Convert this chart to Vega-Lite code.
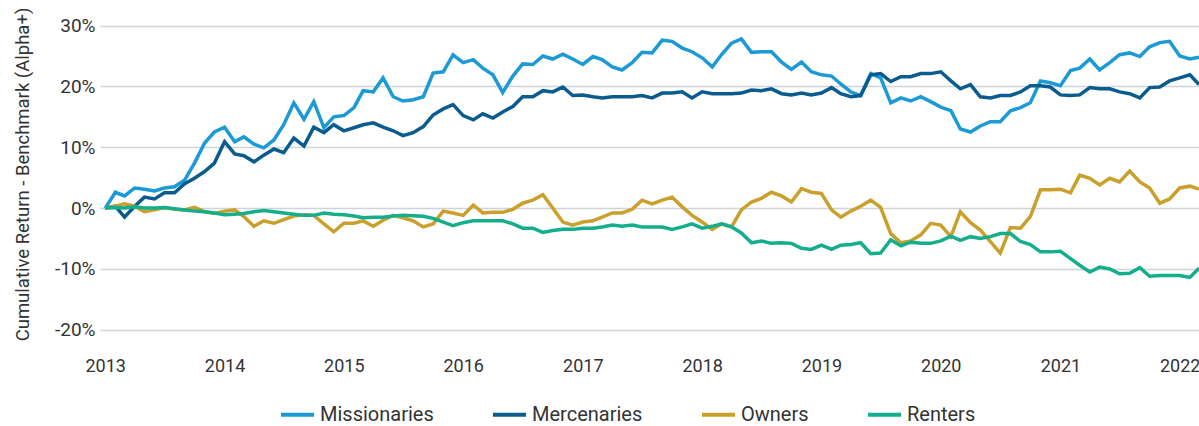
{
  "$schema": "https://vega.github.io/schema/vega-lite/v6.json",
  "width": 1099,
  "height": 348,
  "autosize": {"type": "none"},
  "padding": {"left": 100, "top": 0, "right": 0, "bottom": 78},
  "background": "white",
  "config": {
    "view": {"stroke": null},
    "font": "Roboto"
  },
  "data": {"values": [
    {"d":"2013-01-01","Missionaries":0,"Mercenaries":0,"Owners":0,"Renters":0},
    {"d":"2013-02-01","Missionaries":2.6,"Mercenaries":0.3,"Owners":0.3,"Renters":0.1},
    {"d":"2013-03-01","Missionaries":2.0,"Mercenaries":-1.5,"Owners":0.7,"Renters":0},
    {"d":"2013-04-01","Missionaries":3.3,"Mercenaries":0.3,"Owners":0.3,"Renters":0.2},
    {"d":"2013-05-01","Missionaries":3.1,"Mercenaries":1.8,"Owners":-0.6,"Renters":0},
    {"d":"2013-06-01","Missionaries":2.8,"Mercenaries":1.5,"Owners":-0.3,"Renters":0},
    {"d":"2013-07-01","Missionaries":3.3,"Mercenaries":2.5,"Owners":0.1,"Renters":0.1},
    {"d":"2013-08-01","Missionaries":3.5,"Mercenaries":2.5,"Owners":-0.2,"Renters":-0.1},
    {"d":"2013-09-01","Missionaries":4.6,"Mercenaries":4.0,"Owners":-0.3,"Renters":-0.3},
    {"d":"2013-10-01","Missionaries":7.4,"Mercenaries":4.9,"Owners":0.1,"Renters":-0.5},
    {"d":"2013-11-01","Missionaries":10.7,"Mercenaries":6.0,"Owners":-0.6,"Renters":-0.6},
    {"d":"2013-12-01","Missionaries":12.5,"Mercenaries":7.4,"Owners":-0.9,"Renters":-0.8},
    {"d":"2014-01-01","Missionaries":13.3,"Mercenaries":10.9,"Owners":-0.5,"Renters":-1.1},
    {"d":"2014-02-01","Missionaries":10.9,"Mercenaries":8.9,"Owners":-0.3,"Renters":-1.0},
    {"d":"2014-03-01","Missionaries":11.7,"Mercenaries":8.6,"Owners":-1.4,"Renters":-0.9},
    {"d":"2014-04-01","Missionaries":10.5,"Mercenaries":7.6,"Owners":-3.0,"Renters":-0.6},
    {"d":"2014-05-01","Missionaries":9.9,"Mercenaries":8.7,"Owners":-2.1,"Renters":-0.4},
    {"d":"2014-06-01","Missionaries":11.2,"Mercenaries":9.7,"Owners":-2.5,"Renters":-0.6},
    {"d":"2014-07-01","Missionaries":13.7,"Mercenaries":9.1,"Owners":-1.9,"Renters":-0.8},
    {"d":"2014-08-01","Missionaries":17.3,"Mercenaries":11.5,"Owners":-1.3,"Renters":-1.0},
    {"d":"2014-09-01","Missionaries":14.6,"Mercenaries":10.2,"Owners":-1.1,"Renters":-1.2},
    {"d":"2014-10-01","Missionaries":17.5,"Mercenaries":13.3,"Owners":-1.2,"Renters":-1.2},
    {"d":"2014-11-01","Missionaries":13.2,"Mercenaries":12.4,"Owners":-2.6,"Renters":-0.8},
    {"d":"2014-12-01","Missionaries":15.0,"Mercenaries":13.7,"Owners":-3.9,"Renters":-1.0},
    {"d":"2015-01-01","Missionaries":15.2,"Mercenaries":12.7,"Owners":-2.5,"Renters":-1.1},
    {"d":"2015-02-01","Missionaries":16.5,"Mercenaries":13.2,"Owners":-2.5,"Renters":-1.3},
    {"d":"2015-03-01","Missionaries":19.3,"Mercenaries":13.7,"Owners":-2.1,"Renters":-1.6},
    {"d":"2015-04-01","Missionaries":19.1,"Mercenaries":14.0,"Owners":-3.0,"Renters":-1.5},
    {"d":"2015-05-01","Missionaries":21.4,"Mercenaries":13.3,"Owners":-2.0,"Renters":-1.5},
    {"d":"2015-06-01","Missionaries":18.3,"Mercenaries":12.7,"Owners":-1.2,"Renters":-1.3},
    {"d":"2015-07-01","Missionaries":17.6,"Mercenaries":11.9,"Owners":-1.6,"Renters":-1.2},
    {"d":"2015-08-01","Missionaries":17.8,"Mercenaries":12.4,"Owners":-2.1,"Renters":-1.25},
    {"d":"2015-09-01","Missionaries":18.3,"Mercenaries":13.4,"Owners":-3.1,"Renters":-1.35},
    {"d":"2015-10-01","Missionaries":22.2,"Mercenaries":15.3,"Owners":-2.6,"Renters":-1.7},
    {"d":"2015-11-01","Missionaries":22.4,"Mercenaries":16.3,"Owners":-0.5,"Renters":-2.3},
    {"d":"2015-12-01","Missionaries":25.2,"Mercenaries":17.0,"Owners":-0.8,"Renters":-2.9},
    {"d":"2016-01-01","Missionaries":23.9,"Mercenaries":15.2,"Owners":-1.2,"Renters":-2.4},
    {"d":"2016-02-01","Missionaries":24.4,"Mercenaries":14.5,"Owners":0.5,"Renters":-2.1},
    {"d":"2016-03-01","Missionaries":23.0,"Mercenaries":15.5,"Owners":-0.8,"Renters":-2.1},
    {"d":"2016-04-01","Missionaries":21.9,"Mercenaries":14.8,"Owners":-0.7,"Renters":-2.1},
    {"d":"2016-05-01","Missionaries":19.0,"Mercenaries":15.8,"Owners":-0.7,"Renters":-2.1},
    {"d":"2016-06-01","Missionaries":21.7,"Mercenaries":16.7,"Owners":-0.2,"Renters":-2.6},
    {"d":"2016-07-01","Missionaries":23.7,"Mercenaries":18.3,"Owners":0.8,"Renters":-3.3},
    {"d":"2016-08-01","Missionaries":23.6,"Mercenaries":18.3,"Owners":1.3,"Renters":-3.3},
    {"d":"2016-09-01","Missionaries":25.0,"Mercenaries":19.3,"Owners":2.2,"Renters":-4.0},
    {"d":"2016-10-01","Missionaries":24.5,"Mercenaries":19.1,"Owners":0.0,"Renters":-3.7},
    {"d":"2016-11-01","Missionaries":25.3,"Mercenaries":19.9,"Owners":-2.3,"Renters":-3.5},
    {"d":"2016-12-01","Missionaries":24.5,"Mercenaries":18.5,"Owners":-2.8,"Renters":-3.5},
    {"d":"2017-01-01","Missionaries":23.6,"Mercenaries":18.6,"Owners":-2.3,"Renters":-3.3},
    {"d":"2017-02-01","Missionaries":24.9,"Mercenaries":18.3,"Owners":-2.1,"Renters":-3.3},
    {"d":"2017-03-01","Missionaries":24.4,"Mercenaries":18.1,"Owners":-1.5,"Renters":-3.1},
    {"d":"2017-04-01","Missionaries":23.2,"Mercenaries":18.3,"Owners":-0.8,"Renters":-2.8},
    {"d":"2017-05-01","Missionaries":22.7,"Mercenaries":18.3,"Owners":-0.8,"Renters":-3.0},
    {"d":"2017-06-01","Missionaries":23.9,"Mercenaries":18.3,"Owners":-0.2,"Renters":-2.8},
    {"d":"2017-07-01","Missionaries":25.6,"Mercenaries":18.5,"Owners":1.3,"Renters":-3.1},
    {"d":"2017-08-01","Missionaries":25.5,"Mercenaries":18.1,"Owners":0.7,"Renters":-3.1},
    {"d":"2017-09-01","Missionaries":27.6,"Mercenaries":18.9,"Owners":1.3,"Renters":-3.1},
    {"d":"2017-10-01","Missionaries":27.4,"Mercenaries":18.9,"Owners":1.8,"Renters":-3.5},
    {"d":"2017-11-01","Missionaries":26.3,"Mercenaries":19.1,"Owners":0.2,"Renters":-3.1},
    {"d":"2017-12-01","Missionaries":25.7,"Mercenaries":18.1,"Owners":-1.2,"Renters":-2.6},
    {"d":"2018-01-01","Missionaries":24.7,"Mercenaries":19.1,"Owners":-2.3,"Renters":-3.3},
    {"d":"2018-02-01","Missionaries":23.2,"Mercenaries":18.8,"Owners":-3.5,"Renters":-3.0},
    {"d":"2018-03-01","Missionaries":25.2,"Mercenaries":18.8,"Owners":-2.6,"Renters":-2.6},
    {"d":"2018-04-01","Missionaries":27.1,"Mercenaries":18.8,"Owners":-3.1,"Renters":-3.1},
    {"d":"2018-05-01","Missionaries":27.8,"Mercenaries":18.9,"Owners":-0.3,"Renters":-4.1},
    {"d":"2018-06-01","Missionaries":25.6,"Mercenaries":19.4,"Owners":1.0,"Renters":-5.7},
    {"d":"2018-07-01","Missionaries":25.7,"Mercenaries":19.3,"Owners":1.6,"Renters":-5.4},
    {"d":"2018-08-01","Missionaries":25.7,"Mercenaries":19.6,"Owners":2.6,"Renters":-5.8},
    {"d":"2018-09-01","Missionaries":24.0,"Mercenaries":18.8,"Owners":2.0,"Renters":-5.7},
    {"d":"2018-10-01","Missionaries":22.8,"Mercenaries":18.6,"Owners":1.0,"Renters":-5.8},
    {"d":"2018-11-01","Missionaries":24.0,"Mercenaries":18.9,"Owners":3.2,"Renters":-6.6},
    {"d":"2018-12-01","Missionaries":22.4,"Mercenaries":18.6,"Owners":2.6,"Renters":-6.8},
    {"d":"2019-01-01","Missionaries":21.9,"Mercenaries":18.9,"Owners":2.4,"Renters":-6.1},
    {"d":"2019-02-01","Missionaries":21.7,"Mercenaries":19.8,"Owners":-0.3,"Renters":-6.8},
    {"d":"2019-03-01","Missionaries":20.4,"Mercenaries":18.8,"Owners":-1.5,"Renters":-6.1},
    {"d":"2019-04-01","Missionaries":19.1,"Mercenaries":18.3,"Owners":-0.5,"Renters":-6.0},
    {"d":"2019-05-01","Missionaries":18.5,"Mercenaries":18.5,"Owners":0.3,"Renters":-5.7},
    {"d":"2019-06-01","Missionaries":22.1,"Mercenaries":21.9,"Owners":1.3,"Renters":-7.5},
    {"d":"2019-07-01","Missionaries":21.4,"Mercenaries":22.1,"Owners":0.1,"Renters":-7.4},
    {"d":"2019-08-01","Missionaries":17.3,"Mercenaries":20.8,"Owners":-4.2,"Renters":-5.2},
    {"d":"2019-09-01","Missionaries":18.1,"Mercenaries":21.6,"Owners":-5.7,"Renters":-6.2},
    {"d":"2019-10-01","Missionaries":17.6,"Mercenaries":21.6,"Owners":-5.4,"Renters":-5.6},
    {"d":"2019-11-01","Missionaries":18.3,"Mercenaries":22.1,"Owners":-4.4,"Renters":-5.8},
    {"d":"2019-12-01","Missionaries":17.5,"Mercenaries":22.1,"Owners":-2.5,"Renters":-5.8},
    {"d":"2020-01-01","Missionaries":16.6,"Mercenaries":22.4,"Owners":-2.8,"Renters":-5.4},
    {"d":"2020-02-01","Missionaries":16.0,"Mercenaries":20.9,"Owners":-4.7,"Renters":-4.6},
    {"d":"2020-03-01","Missionaries":13.0,"Mercenaries":19.6,"Owners":-0.6,"Renters":-5.3},
    {"d":"2020-04-01","Missionaries":12.5,"Mercenaries":20.3,"Owners":-2.4,"Renters":-4.7},
    {"d":"2020-05-01","Missionaries":13.5,"Mercenaries":18.3,"Owners":-3.6,"Renters":-5.0},
    {"d":"2020-06-01","Missionaries":14.2,"Mercenaries":18.1,"Owners":-5.5,"Renters":-4.7},
    {"d":"2020-07-01","Missionaries":14.2,"Mercenaries":18.5,"Owners":-7.4,"Renters":-4.2},
    {"d":"2020-08-01","Missionaries":16.0,"Mercenaries":18.5,"Owners":-3.2,"Renters":-4.2},
    {"d":"2020-09-01","Missionaries":16.5,"Mercenaries":19.1,"Owners":-3.3,"Renters":-5.5},
    {"d":"2020-10-01","Missionaries":17.3,"Mercenaries":20.1,"Owners":-1.4,"Renters":-6.0},
    {"d":"2020-11-01","Missionaries":20.9,"Mercenaries":20.1,"Owners":3.0,"Renters":-7.2},
    {"d":"2020-12-01","Missionaries":20.6,"Mercenaries":19.9,"Owners":3.0,"Renters":-7.2},
    {"d":"2021-01-01","Missionaries":20.1,"Mercenaries":18.6,"Owners":3.1,"Renters":-7.1},
    {"d":"2021-02-01","Missionaries":22.6,"Mercenaries":18.5,"Owners":2.5,"Renters":-8.3},
    {"d":"2021-03-01","Missionaries":23.0,"Mercenaries":18.6,"Owners":5.4,"Renters":-9.4},
    {"d":"2021-04-01","Missionaries":24.5,"Mercenaries":19.8,"Owners":4.9,"Renters":-10.5},
    {"d":"2021-05-01","Missionaries":22.7,"Mercenaries":19.6,"Owners":3.8,"Renters":-9.7},
    {"d":"2021-06-01","Missionaries":23.9,"Mercenaries":19.6,"Owners":4.9,"Renters":-10.0},
    {"d":"2021-07-01","Missionaries":25.2,"Mercenaries":19.1,"Owners":4.3,"Renters":-10.8},
    {"d":"2021-08-01","Missionaries":25.5,"Mercenaries":18.8,"Owners":6.1,"Renters":-10.7},
    {"d":"2021-09-01","Missionaries":24.9,"Mercenaries":18.1,"Owners":4.3,"Renters":-9.8},
    {"d":"2021-10-01","Missionaries":26.5,"Mercenaries":19.8,"Owners":3.3,"Renters":-11.2},
    {"d":"2021-11-01","Missionaries":27.2,"Mercenaries":19.9,"Owners":0.8,"Renters":-11.1},
    {"d":"2021-12-01","Missionaries":27.4,"Mercenaries":20.9,"Owners":1.5,"Renters":-11.1},
    {"d":"2022-01-01","Missionaries":25.0,"Mercenaries":21.4,"Owners":3.3,"Renters":-11.1},
    {"d":"2022-02-01","Missionaries":24.5,"Mercenaries":21.9,"Owners":3.6,"Renters":-11.4},
    {"d":"2022-03-01","Missionaries":24.8,"Mercenaries":20.3,"Owners":3.1,"Renters":-9.9}
  ]},
  "transform": [
    {"fold": ["Missionaries", "Mercenaries", "Owners", "Renters"], "as": ["series", "value"]}
  ],
  "mark": {"type": "line", "strokeWidth": 3.5, "clip": true},
  "encoding": {
    "x": {
      "field": "d",
      "type": "temporal",
      "scale": {
        "type": "utc",
        "domain": [
          {"year": 2012, "month": 12, "date": 16, "utc": true},
          {"year": 2022, "month": 3, "date": 1, "utc": true}
        ]
      },
      "axis": {
        "title": null,
        "domain": false,
        "ticks": false,
        "grid": false,
        "format": "%Y",
        "tickCount": {"interval": "year", "step": 1},
        "labelFontSize": 18,
        "labelColor": "#333333",
        "labelPadding": 9,
        "labelFlush": false,
        "labelOverlap": false,
        "labelBound": false
      }
    },
    "y": {
      "field": "value",
      "type": "quantitative",
      "scale": {"domain": [-23, 34.2], "nice": false, "zero": false},
      "axis": {
        "title": "Cumulative Return - Benchmark (Alpha+)",
        "titleFont": "Roboto",
        "titleFontSize": 18.5,
        "titleFontWeight": "normal",
        "titleColor": "#333333",
        "titlePadding": 22,
        "values": [-20, -10, 0, 10, 20, 30],
        "labelExpr": "datum.value + '%'",
        "domain": false,
        "ticks": false,
        "grid": true,
        "gridColor": "#cfd4db",
        "gridWidth": 1.5,
        "labelFontSize": 19,
        "labelColor": "#333333",
        "labelPadding": 5
      }
    },
    "color": {
      "field": "series",
      "type": "nominal",
      "sort": ["Missionaries", "Mercenaries", "Owners", "Renters"],
      "scale": {
        "domain": ["Missionaries", "Mercenaries", "Owners", "Renters"],
        "range": ["#1b9ad6", "#0b5c8e", "#c9a02c", "#15ae8c"]
      },
      "legend": {
        "title": null,
        "orient": "none",
        "direction": "horizontal",
        "legendX": 179,
        "legendY": 396,
        "symbolType": "stroke",
        "symbolSize": 1089,
        "symbolStrokeWidth": 4,
        "labelFontSize": 20,
        "labelColor": "#333333",
        "labelOffset": 4,
        "labelLimit": 300,
        "columnPadding": 51
      }
    }
  }
}
